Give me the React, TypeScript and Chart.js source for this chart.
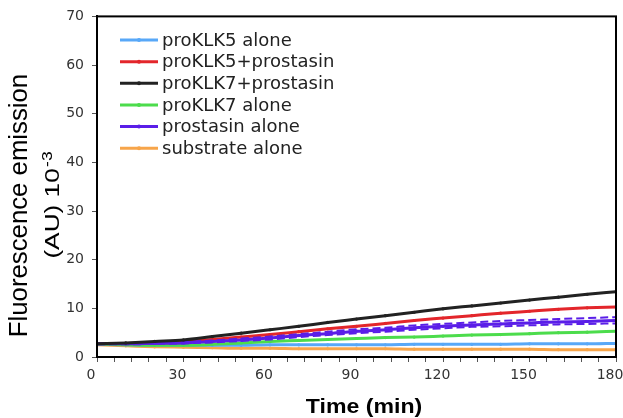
import React, { useEffect, useRef } from "react";
import { Chart, registerables } from "chart.js";

Chart.register(...registerables);

// Time points (min)
const times = [0, 10, 20, 30, 40, 50, 60, 70, 80, 90, 100, 110, 120, 130, 140, 150, 160, 170, 180];

// Series values (fluorescence, AU x10^-3)
const proKLK5Alone = [2.6, 2.5, 2.4, 2.4, 2.4, 2.4, 2.5, 2.5, 2.5, 2.5, 2.5, 2.6, 2.6, 2.6, 2.6, 2.7, 2.7, 2.7, 2.8];
const proKLK5Prostasin = [2.7, 2.8, 2.9, 3.1, 3.6, 4.1, 4.6, 5.2, 5.8, 6.3, 6.9, 7.5, 8.0, 8.5, 9.0, 9.4, 9.8, 10.1, 10.3];
const proKLK7Prostasin = [2.7, 2.9, 3.2, 3.5, 4.2, 4.9, 5.6, 6.3, 7.1, 7.8, 8.5, 9.2, 9.9, 10.5, 11.1, 11.7, 12.3, 12.9, 13.4];
const proKLK7Alone = [2.6, 2.5, 2.4, 2.4, 2.6, 2.9, 3.2, 3.4, 3.6, 3.8, 4.0, 4.1, 4.3, 4.5, 4.6, 4.8, 5.0, 5.1, 5.3];
const prostasinAlone = [2.7, 2.7, 2.8, 2.9, 3.2, 3.5, 3.9, 4.4, 4.8, 5.3, 5.6, 6.0, 6.3, 6.6, 6.8, 7.0, 7.2, 7.3, 7.5];
const prostasinAloneHigh = [2.8, 2.8, 2.9, 3.1, 3.4, 3.8, 4.2, 4.7, 5.2, 5.7, 6.0, 6.5, 6.8, 7.1, 7.4, 7.6, 7.8, 8.0, 8.2];
const prostasinAloneLow = [2.6, 2.6, 2.7, 2.8, 3.0, 3.3, 3.6, 4.1, 4.5, 4.9, 5.2, 5.6, 5.9, 6.2, 6.3, 6.5, 6.7, 6.8, 6.9];
const substrateAlone = [2.5, 2.3, 2.1, 2.0, 1.9, 1.8, 1.8, 1.7, 1.7, 1.7, 1.7, 1.6, 1.6, 1.6, 1.6, 1.6, 1.5, 1.5, 1.5];

const seriesLabels = [
  "proKLK5 alone",
  "proKLK5+prostasin",
  "proKLK7+prostasin",
  "proKLK7 alone",
  "prostasin alone",
  "substrate alone",
];
const seriesColors = ["#58a8f8", "#e3262b", "#222222", "#4cdc4c", "#5a1ee8", "#f7a54a"];
const seriesValues = [proKLK5Alone, proKLK5Prostasin, proKLK7Prostasin, proKLK7Alone, prostasinAlone, substrateAlone];
const seriesOrder = [4, 2, 0, 3, 1, 5];

const xMajorTicks = [0, 30, 60, 90, 120, 150, 180];
const xMinorStep = 6;
const yTicks = [0, 10, 20, 30, 40, 50, 60, 70];

const xTitle = "Time (min)";
const yTitleLine1 = "Fluorescence emission";
const yTitleLine2 = "(AU) 10";
const yTitleSup = "-3";

const toPoints = (vals: number[]) => vals.map((v, i) => ({ x: times[i], y: v }));

const overlayPlugin = {
  id: "overlay",
  afterDatasetsDraw(chart: any) {
    const { ctx, chartArea } = chart;
    ctx.save();
    ctx.strokeStyle = "#000";
    ctx.lineWidth = 2;
    ctx.strokeRect(chartArea.left, chartArea.top, chartArea.right - chartArea.left, chartArea.bottom - chartArea.top);
    ctx.restore();
  },
  afterDraw(chart: any) {
    const { ctx } = chart;
    ctx.save();
    // Legend
    const lx0 = 120;
    const lx1 = 158;
    const ly0 = 40;
    const lstep = 21.65;
    seriesLabels.forEach((lab, i) => {
      const y = ly0 + i * lstep;
      ctx.strokeStyle = seriesColors[i];
      ctx.lineWidth = 3;
      ctx.beginPath();
      ctx.moveTo(lx0, y);
      ctx.lineTo(lx1, y);
      ctx.stroke();
      ctx.fillStyle = seriesColors[i];
      ctx.beginPath();
      ctx.arc((lx0 + lx1) / 2, y, 2, 0, Math.PI * 2);
      ctx.fill();
      ctx.fillStyle = "#222";
      ctx.font = "18px 'DejaVu Sans'";
      ctx.textAlign = "left";
      ctx.textBaseline = "middle";
      ctx.fillText(lab, 162, y + 1);
    });

    // X title
    ctx.save();
    ctx.fillStyle = "#000";
    ctx.translate(364, 413);
    ctx.scale(1.1, 1);
    ctx.font = "bold 21px 'Liberation Sans', Arial";
    ctx.textAlign = "center";
    ctx.textBaseline = "alphabetic";
    ctx.fillText(xTitle, 0, 0);
    ctx.restore();

    // Y title line 1
    ctx.save();
    ctx.fillStyle = "#000";
    ctx.translate(27, 205.5);
    ctx.rotate(-Math.PI / 2);
    ctx.scale(1.03, 1);
    ctx.font = "25px 'Liberation Sans', Arial";
    ctx.textAlign = "center";
    ctx.textBaseline = "alphabetic";
    ctx.fillText(yTitleLine1, 0, 0);
    ctx.restore();

    // Y title line 2 with superscript
    ctx.save();
    ctx.fillStyle = "#000";
    ctx.translate(59, 205);
    ctx.rotate(-Math.PI / 2);
    ctx.scale(1.25, 1);
    ctx.textBaseline = "alphabetic";
    ctx.font = "21px 'Liberation Sans', Arial";
    const w1 = ctx.measureText(yTitleLine2).width;
    ctx.font = "14px 'Liberation Sans', Arial";
    const w2 = ctx.measureText(yTitleSup).width;
    const start = -(w1 + w2 + 1) / 2;
    ctx.textAlign = "left";
    ctx.font = "21px 'Liberation Sans', Arial";
    ctx.fillText(yTitleLine2, start, 0);
    ctx.font = "14px 'Liberation Sans', Arial";
    ctx.fillText(yTitleSup, start + w1 + 1, -7);
    ctx.restore();

    ctx.restore();
  },
};

export default function App() {
  const canvasRef = useRef<HTMLCanvasElement | null>(null);

  useEffect(() => {
    if (!canvasRef.current) return;
    const datasets: any[] = seriesLabels.map((lab, i) => ({
      label: lab,
      data: toPoints(seriesValues[i]),
      borderColor: seriesColors[i],
      backgroundColor: seriesColors[i],
      borderWidth: 3,
      pointRadius: 1.6,
      pointBorderWidth: 0,
      cubicInterpolationMode: "monotone",
      order: seriesOrder[i],
    }));
    [prostasinAloneHigh, prostasinAloneLow].forEach((vals) => {
      datasets.push({
        label: "",
        data: toPoints(vals),
        borderColor: seriesColors[4],
        backgroundColor: seriesColors[4],
        borderWidth: 2,
        borderDash: [8, 4],
        pointRadius: 0,
        cubicInterpolationMode: "monotone",
        order: 1,
      });
    });

    const chart = new Chart(canvasRef.current, {
      type: "line",
      data: { datasets },
      options: {
        animation: false,
        responsive: false,
        maintainAspectRatio: false,
        layout: { padding: { top: 15, right: 7, left: 0, bottom: 0 } },
        plugins: { legend: { display: false }, tooltip: { enabled: false } },
        scales: {
          x: {
            type: "linear",
            min: 0,
            max: 180,
            afterBuildTicks: (axis: any) => {
              const ticks = [];
              for (let v = 0; v <= 180; v += xMinorStep) ticks.push({ value: v });
              axis.ticks = ticks;
            },
            afterFit: (scale: any) => {
              scale.height = 61;
              scale.paddingLeft = 0;
              scale.paddingRight = 0;
            },
            ticks: {
              autoSkip: false,
              maxRotation: 0,
              minRotation: 0,
              labelOffset: -6,
              padding: 5,
              color: "#333",
              font: { family: "'DejaVu Sans'", size: 14 },
              callback: (v: any) => (xMajorTicks.includes(Number(v)) ? String(v) : ""),
            },
            grid: { drawOnChartArea: false, drawTicks: true, tickLength: 5, color: "#555" },
            border: { color: "#000", width: 2 },
          },
          y: {
            min: 0,
            max: 70,
            afterBuildTicks: (axis: any) => {
              axis.ticks = yTicks.map((v) => ({ value: v }));
            },
            afterFit: (scale: any) => {
              scale.width = 97;
            },
            ticks: {
              padding: 8,
              color: "#333",
              font: { family: "'DejaVu Sans'", size: 14 },
            },
            grid: { drawOnChartArea: false, drawTicks: true, tickLength: 5, color: "#555" },
            border: { color: "#000", width: 2 },
          },
        },
      },
      plugins: [overlayPlugin],
    });
    return () => chart.destroy();
  }, []);

  return (
    <div style={{ position: "fixed", left: 0, top: 0, width: 623, height: 418, background: "#fff" }}>
      <canvas ref={canvasRef} width={623} height={418} style={{ width: 623, height: 418 }} />
    </div>
  );
}
